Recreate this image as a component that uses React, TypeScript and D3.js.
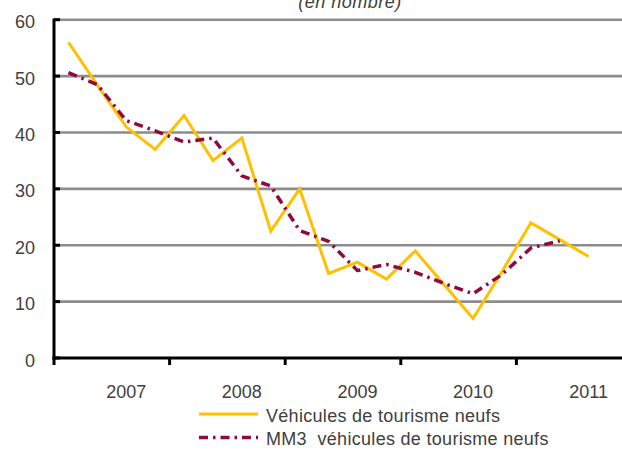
import React from "react";
import * as d3 from "d3";

const quarters = [
  "2007-T1", "2007-T2", "2007-T3", "2007-T4",
  "2008-T1", "2008-T2", "2008-T3", "2008-T4",
  "2009-T1", "2009-T2", "2009-T3", "2009-T4",
  "2010-T1", "2010-T2", "2010-T3", "2010-T4",
  "2011-T1", "2011-T2", "2011-T3", "2011-T4",
];
const yearLabels = ["2007", "2008", "2009", "2010", "2011"];
const vehicules = [56, 48.4, 41, 37, 43, 35, 39, 22.5, 30, 15, 17, 14, 19, 13, 7, 15.3, 24, 21, 18];
const mm3 = [50.6, 48.5, 42.1, 40.3, 38.3, 39, 32.3, 30.5, 22.6, 20.7, 15.5, 16.6, 15.2, 13.2, 11.4, 14.8, 19.5, 20.8];
const yTicks = [0, 10, 20, 30, 40, 50, 60];
const seriesNames = ["Véhicules de tourisme neufs", "MM3  véhicules de tourisme neufs"];
const title = "(en nombre)";

const W = 622;
const H = 450;
const FONT = "'Liberation Sans', Arial, sans-serif";
const TXT = "#404040";

export default function App() {
  const x = d3.scaleBand<string>().domain(quarters).range([54, 54 + 28.9 * quarters.length]).padding(0);
  const y = d3.scaleLinear().domain([0, 60]).range([358, 19.7]);
  const cx = (i: number) => (x(quarters[i]) as number) + x.bandwidth() / 2;

  const line = d3
    .line<number>()
    .x((_, i) => cx(i))
    .y((d) => y(d));

  const tickIdx = d3.range(0, quarters.length + 1, 4);

  return (
    <svg
      width={W}
      height={H}
      style={{ position: "absolute", left: 0, top: 0, background: "#fff" }}
      fontFamily={FONT}
    >
      <rect x={0} y={0} width={W} height={H} fill="#fff" />
      <text x={350} y={8} textAnchor="middle" fontSize={18} fontStyle="italic" fill={TXT} letterSpacing={0.5}>
        {title}
      </text>
      {/* gridlines */}
      {yTicks.filter((t) => t > 0).map((t) => (
        <line key={t} x1={54} x2={W} y1={y(t)} y2={y(t)} stroke="#8c8c8c" strokeWidth={2.6} />
      ))}
      {/* y labels */}
      {yTicks.map((t) => (
        <text key={"yl" + t} x={35} y={y(t) + 8.5} textAnchor="end" fontSize={18} fill={TXT}>
          {t}
        </text>
      ))}
      {/* series */}
      <path d={line(vehicules) || ""} fill="none" stroke="#FFC000" strokeWidth={3} strokeLinejoin="miter" />
      <path
        d={line(mm3) || ""}
        fill="none"
        stroke="#8E0B3A"
        strokeWidth={3.5}
        strokeDasharray="9 5 2.5 5"
        strokeLinejoin="round"
      />
      {/* axes */}
      <line x1={54} x2={54} y1={18.5} y2={359.5} stroke="#000" strokeWidth={3} />
      <line x1={52.5} x2={W} y1={y(0)} y2={y(0)} stroke="#000" strokeWidth={3} />
      {yTicks.map((t) => (
        <line key={"yt" + t} x1={54} x2={60} y1={y(t)} y2={y(t)} stroke="#000" strokeWidth={3} />
      ))}
      {tickIdx.map((i) => {
        const xx = i < quarters.length ? (x(quarters[i]) as number) : (x(quarters[quarters.length - 1]) as number) + x.bandwidth();
        return <line key={"xt" + i} x1={xx} x2={xx} y1={y(0)} y2={y(0) + 7} stroke="#000" strokeWidth={3} />;
      })}
      {/* year labels at third quarter of each year */}
      {yearLabels.map((yr, k) => (
        <text key={yr} x={cx(k * 4 + 2)} y={398} textAnchor="middle" fontSize={18} fill={TXT}>
          {yr}
        </text>
      ))}
      {/* legend */}
      <line x1={199} x2={258} y1={414} y2={414} stroke="#FFC000" strokeWidth={3} />
      <text x={266} y={422} fontSize={18} fill={TXT} letterSpacing={0.3}>
        {seriesNames[0]}
      </text>
      <line
        x1={199}
        x2={258}
        y1={437.5}
        y2={437.5}
        stroke="#8E0B3A"
        strokeWidth={3.5}
        strokeDasharray="9 5 2.5 5"
      />
      <text x={266} y={445} fontSize={18} fill={TXT} letterSpacing={0.3} style={{ whiteSpace: "pre" }}>
        {seriesNames[1]}
      </text>
    </svg>
  );
}
